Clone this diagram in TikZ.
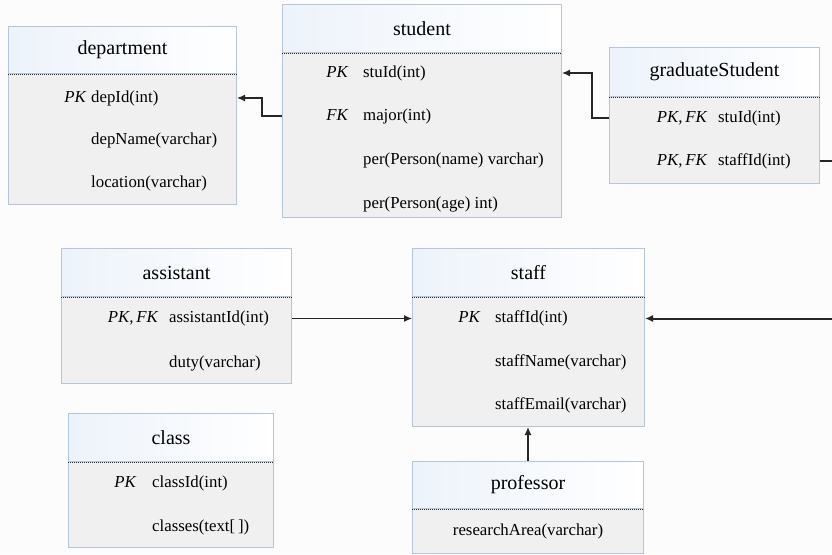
\documentclass[tikz,border=0pt]{standalone}
\usepackage{fontspec}
\setmainfont{Liberation Serif}
\usetikzlibrary{arrows.meta}

\definecolor{tblline}{HTML}{B4C6DE}
\definecolor{tblhead}{HTML}{EDF3FB}
\definecolor{tblbody}{HTML}{F0F0F0}
\definecolor{canvas}{HTML}{FCFCFC}

\begin{document}
\begin{tikzpicture}
[x=1pt,y=-1pt
,hd/.style={draw=tblline,left color=tblhead,right color=white,anchor=north west,inner sep=0,line width=1pt,font=\fontsize{20}{24}\selectfont}
,bd/.style={draw=tblline,fill=tblbody,anchor=north west,inner sep=0,line width=1pt}
,sep/.style={black!85,line width=0.9pt,dash pattern=on 1.2pt off 0.8pt}
,fld/.style={anchor=west,inner sep=0,text height=12pt,text depth=4pt,font=\fontsize{16.8}{20}\selectfont}
,key/.style={fld,anchor=east,font=\fontsize{16.8}{20}\selectfont\itshape}
,rel/.style={draw=black!85,line width=1.3pt,arrows={-Latex[length=8pt,width=7pt]}}
,relb/.style={rel,line width=2pt}
]
\fill[canvas] (0,0) rectangle (832,554);
\useasboundingbox (0,0) rectangle (832,554);

% department
\node[bd,minimum width=228,minimum height=131] (dep-b) at (8,73) {};
\node[hd,minimum width=228,minimum height=47] (dep) at (8,26) {department};
\draw[sep] (dep.south west) -- (dep.south east);
\node[key] (dep-k1) at (86,98) {PK};
\node[fld] (dep-f1) at (91,98) {depId(int)};
\node[fld] (dep-f2) at (91,140) {depName(varchar)};
\node[fld] (dep-f3) at (91,183) {location(varchar)};

% student
\node[bd,minimum width=279,minimum height=165] (stu-b) at (282,52) {};
\node[hd,minimum width=279,minimum height=48] (stu) at (282,4) {student};
\draw[sep] (stu.south west) -- (stu.south east);
\node[key] (stu-k1) at (348,73) {PK};
\node[fld] (stu-f1) at (363,73) {stuId(int)};
\node[key] (stu-k2) at (348,116) {FK};
\node[fld] (stu-f2) at (363,116) {major(int)};
\node[fld] (stu-f3) at (363,160) {per(Person(name) varchar)};
\node[fld] (stu-f4) at (363,204) {per(Person(age) int)};

% graduateStudent
\node[bd,minimum width=210,minimum height=87] (gs-b) at (609,96) {};
\node[hd,minimum width=210,minimum height=49] (gs) at (609,47) {graduateStudent};
\draw[sep] (gs.south west) -- (gs.south east);
\node[key] (gs-k1) at (707,118) {PK,\,FK};
\node[fld] (gs-f1) at (718,118) {stuId(int)};
\node[key] (gs-k2) at (707,161) {PK,\,FK};
\node[fld] (gs-f2) at (718,161) {staffId(int)};

% assistant
\node[bd,minimum width=230,minimum height=87] (ast-b) at (61,296) {};
\node[hd,minimum width=230,minimum height=48] (ast) at (61,248) {assistant};
\draw[sep] (ast.south west) -- (ast.south east);
\node[key] (ast-k1) at (158,318.5) {PK,\,FK};
\node[fld] (ast-f1) at (169,318.5) {assistantId(int)};
\node[fld] (ast-f2) at (169,363) {duty(varchar)};

% class
\node[bd,minimum width=205,minimum height=86] (cls-b) at (68,461) {};
\node[hd,minimum width=205,minimum height=48] (cls) at (68,413) {class};
\draw[sep] (cls.south west) -- (cls.south east);
\node[key] (cls-k1) at (136,483) {PK};
\node[fld] (cls-f1) at (152,483) {classId(int)};
\node[fld] (cls-f2) at (152,527) {classes(text[\,])};

% staff
\node[bd,minimum width=232,minimum height=130] (stf-b) at (412,296) {};
\node[hd,minimum width=232,minimum height=48] (stf) at (412,248) {staff};
\draw[sep] (stf.south west) -- (stf.south east);
\node[key] (stf-k1) at (480,318.5) {PK};
\node[fld] (stf-f1) at (495,318.5) {staffId(int)};
\node[fld] (stf-f2) at (495,362) {staffName(varchar)};
\node[fld] (stf-f3) at (495,405) {staffEmail(varchar)};

% professor
\node[bd,minimum width=231,minimum height=45] (prof-b) at (412,508) {};
\node[hd,minimum width=231,minimum height=47] (prof) at (412,461) {professor};
\draw[sep] (prof.south west) -- (prof.south east);
\node[fld,anchor=center] (prof-f1) at (prof-b.center) {researchArea(varchar)};

% relations
\draw[rel] (stu-b.west |- stu-f2) -- ++(-20,0) |- (dep-b.east |- dep-f1);
\draw[rel] (gs-b.west |- gs-f1) -- ++(-17,0) |- (stu-b.east |- stu-f1);
\draw[rel] (ast-b.east |- ast-f1) -- (stf-b.west |- stf-f1);
\draw[rel] (prof.north) -- (prof.north |- stf-b.south);
\draw[relb] (gs-b.east |- gs-f2) -- ++(40,0) |- (stf-b.east |- stf-f1);
\end{tikzpicture}
\end{document}
